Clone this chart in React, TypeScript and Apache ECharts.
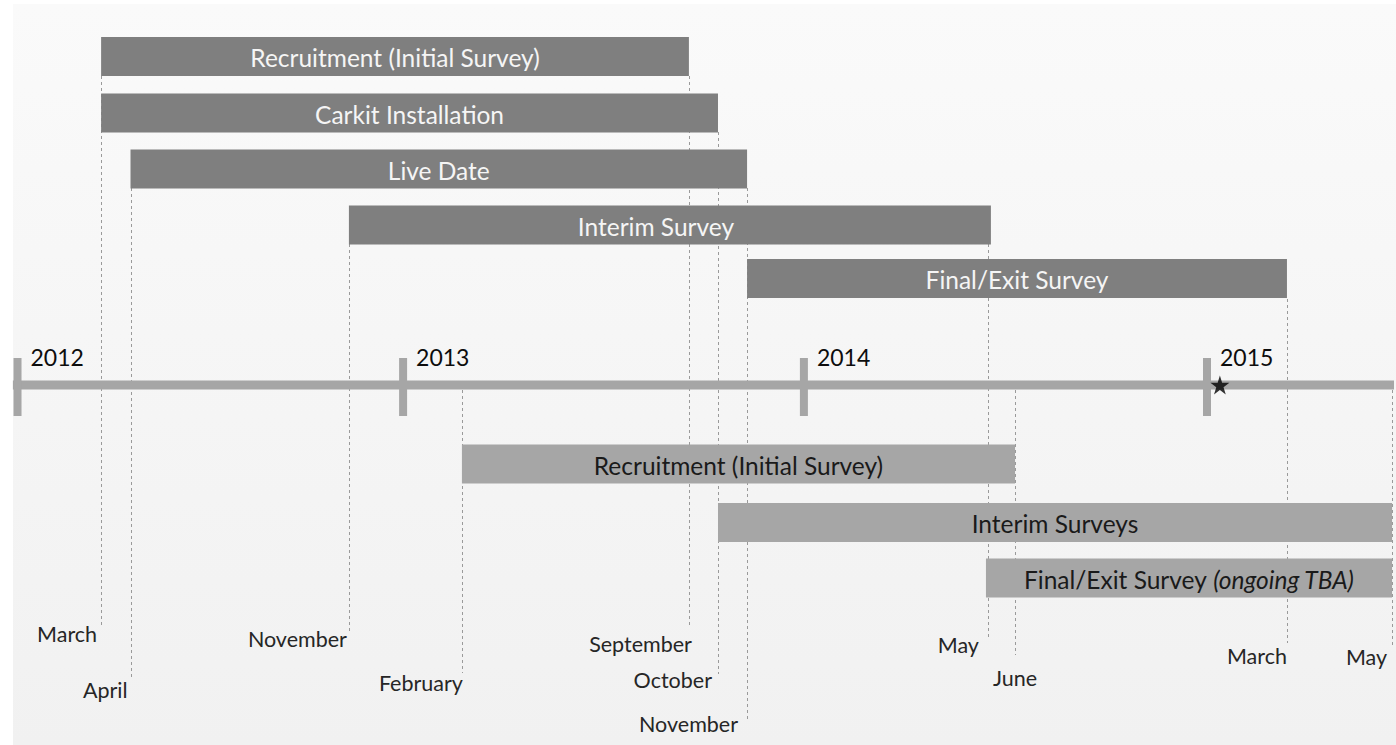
import React, { useEffect, useRef } from "react";
import * as echarts from "echarts";

// ---- data (x values: months counted from January 2012) ----
const years = ["2012", "2013", "2014", "2015"];
const yearPos = [0, 11.67, 23.8, 36.0];
const axisStart = -0.14;
const axisEnd = 41.66;
const starPos = 36.39;

const topTasks = [
  "Recruitment (Initial Survey)",
  "Carkit Installation",
  "Live Date",
  "Interim Survey",
  "Final/Exit Survey",
];
const topStart = [2.53, 2.53, 3.42, 10.03, 22.08];
const topEnd = [20.32, 21.2, 22.08, 29.46, 38.42];

const bottomTasks = ["Recruitment (Initial Survey)", "Interim Surveys", "Final/Exit Survey (ongoing TBA)"];
const bottomStart = [13.45, 21.2, 29.31];
const bottomEnd = [30.19, 41.6, 41.6];

const monthLabels = ["March", "April", "November", "February", "September", "October", "November", "May", "June", "March", "May"];
const monthPos = [2.53, 3.42, 10.03, 13.45, 20.32, 21.2, 22.08, 29.37, 30.19, 38.42, 41.6];

// ---- layout (vertical positions in the y axis' pixel-like units, offsets) ----
const topRowY = [56.5, 113, 169, 225, 278.5];
const bottomRowY = [464, 522.5, 578];
const topLabelDx = [0, 0, 0, -14, 0];
const BAR_H = 39;
const AXIS_Y = 385;
const guideTop = [76, 188, 244, 390, 76, 132, 188, 244, 390, 299, 390];
const guideBottom = [627, 678, 633, 673, 628, 674, 720, 638, 655, 643, 645];
const labelDx = [-4, -3, -2, 1, 3, -6, -9, -9, 0, 0, -5];
const labelY = [633, 689, 638, 682, 643, 679, 723, 644, 677, 655, 656];
const labelAlign = ["right", "right", "right", "right", "right", "right", "right", "right", "center", "right", "right"];

const FONT = "Lato, 'Open Sans', sans-serif";
const BAR_FONT = 24.5;

export default function App() {
  const ref = useRef<HTMLDivElement>(null);

  useEffect(() => {
    if (!ref.current) return;
    const chart = echarts.init(ref.current, null, { renderer: "svg" });

    const barSeries = (
      name: string,
      tasks: string[],
      starts: number[],
      ends: number[],
      rows: number[],
      fill: string,
      textFill: string,
      dxs: number[]
    ) => ({
      type: "custom",
      name,
      clip: false,
      silent: true,
      z: 5,
      data: tasks.map((t, i) => [starts[i], ends[i], rows[i], i]),
      renderItem: (params: any, api: any) => {
        const i = api.value(3);
        const s = api.coord([api.value(0), api.value(2)]);
        const e = api.coord([api.value(1), api.value(2)]);
        const label = tasks[i];
        const m = label.match(/^(.*?)\s*(\(ongoing TBA\))$/);
        const textStyle: any = {
          x: (s[0] + e[0]) / 2 + (dxs[i] || 0),
          y: s[1] + 1,
          align: "center",
          verticalAlign: "middle",
          fill: textFill,
          fontSize: BAR_FONT,
          fontFamily: FONT,
        };
        if (m) {
          textStyle.text = `{n|${m[1]} }{it|${m[2]}}`;
          textStyle.rich = {
            n: { fontSize: BAR_FONT, fontFamily: FONT, fill: textFill, color: textFill },
            it: { fontSize: BAR_FONT, fontFamily: FONT, fontStyle: "italic", fill: textFill, color: textFill },
          };
        } else {
          textStyle.text = label;
        }
        return {
          type: "group",
          children: [
            {
              type: "rect",
              shape: { x: s[0], y: s[1] - BAR_H / 2, width: e[0] - s[0], height: BAR_H },
              style: { fill },
            },
            { type: "text", style: textStyle },
          ],
        };
      },
    });

    const option: any = {
      animation: false,
      backgroundColor: "#ffffff",
      grid: { left: 0, right: 0, top: 0, bottom: 0 },
      xAxis: { type: "value", min: -0.53, max: 41.72, show: false },
      yAxis: { type: "value", min: 0, max: 745, inverse: true, show: false },
      graphic: [
        {
          type: "rect",
          z: -10,
          shape: { x: 13, y: 4, width: 1383, height: 741 },
          style: {
            fill: {
              type: "linear",
              x: 0,
              y: 0,
              x2: 0,
              y2: 1,
              colorStops: [
                { offset: 0, color: "#fafafa" },
                { offset: 1, color: "#f1f1f1" },
              ],
            },
          },
        },
      ],
      series: [
        // dashed guide lines and month labels
        {
          type: "custom",
          clip: false,
          silent: true,
          z: 2,
          data: monthLabels.map((m, i) => [monthPos[i], guideTop[i], guideBottom[i], labelY[i], i]),
          renderItem: (params: any, api: any) => {
            const i = api.value(4);
            const a = api.coord([api.value(0), api.value(1)]);
            const b = api.coord([api.value(0), api.value(2)]);
            const l = api.coord([api.value(0), api.value(3)]);
            return {
              type: "group",
              children: [
                {
                  type: "line",
                  shape: { x1: Math.round(a[0]) + 0.5, y1: a[1], x2: Math.round(a[0]) + 0.5, y2: b[1] },
                  style: { stroke: "#9a9a9a", lineWidth: 1, lineDash: [3, 3] },
                },
                {
                  type: "text",
                  style: {
                    text: monthLabels[i],
                    x: l[0] + labelDx[i],
                    y: l[1] + 1,
                    align: labelAlign[i],
                    verticalAlign: "middle",
                    fill: "#262626",
                    fontSize: 21.5,
                    fontFamily: FONT,
                  },
                },
              ],
            };
          },
        },
        // timeline axis
        {
          type: "custom",
          clip: false,
          silent: true,
          z: 3,
          data: [[axisStart, axisEnd, AXIS_Y]],
          renderItem: (params: any, api: any) => {
            const s = api.coord([api.value(0), api.value(2)]);
            const e = api.coord([api.value(1), api.value(2)]);
            return {
              type: "rect",
              shape: { x: s[0], y: s[1] - 4.5, width: e[0] - s[0], height: 9 },
              style: { fill: "#a6a6a6" },
            };
          },
        },
        // year ticks + labels
        {
          type: "custom",
          clip: false,
          silent: true,
          z: 4,
          data: years.map((y, i) => [yearPos[i], AXIS_Y, i]),
          renderItem: (params: any, api: any) => {
            const i = api.value(2);
            const p = api.coord([api.value(0), api.value(1)]);
            return {
              type: "group",
              children: [
                {
                  type: "rect",
                  shape: { x: p[0] - 4, y: p[1] - 27, width: 8, height: 58 },
                  style: { fill: "#a6a6a6" },
                },
                {
                  type: "text",
                  style: {
                    text: years[i],
                    x: p[0] + 13,
                    y: p[1] - 28,
                    align: "left",
                    verticalAlign: "middle",
                    fill: "#0d0d0d",
                    fontSize: 23,
                    fontFamily: FONT,
                  },
                },
              ],
            };
          },
        },
        barSeries("top", topTasks, topStart, topEnd, topRowY, "#7f7f7f", "#f5f5f5", topLabelDx),
        barSeries("bottom", bottomTasks, bottomStart, bottomEnd, bottomRowY, "#a6a6a6", "#1a1a1a", [0, 0, 0]),
        {
          type: "scatter",
          silent: true,
          z: 6,
          symbol: "path://M50,0 L61.2,34.5 L97.6,34.5 L68.2,55.9 L79.4,90.5 L50,69.1 L20.6,90.5 L31.8,55.9 L2.4,34.5 L38.8,34.5 Z",
          symbolSize: 19,
          itemStyle: { color: "#000000" },
          data: [[starPos, AXIS_Y]],
        },
      ],
    };

    chart.setOption(option);
    return () => chart.dispose();
  }, []);

  return (
    <div
      ref={ref}
      style={{ position: "fixed", left: 0, top: 0, width: 1396, height: 745 }}
    />
  );
}
